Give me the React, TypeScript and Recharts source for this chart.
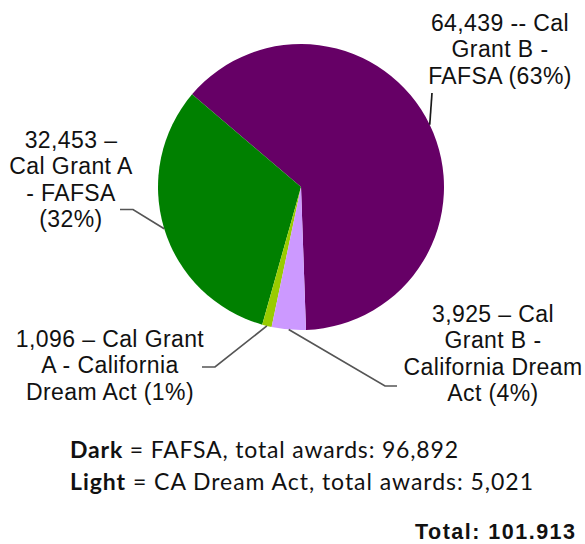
import React from 'react';
import { PieChart, Pie, Cell } from 'recharts';

const categories = [
  'Cal Grant B - FAFSA',
  'Cal Grant A - FAFSA',
  'Cal Grant A - California Dream Act',
  'Cal Grant B - California Dream Act',
];
const awards = [64439, 32453, 1096, 3925];
const sliceColors = ['#660066', '#008000', '#99CC00', '#CC99FF'];
const sliceLabels = [
  ['64,439 -- Cal', 'Grant B -', 'FAFSA (63%)'],
  ['32,453 \u2013', 'Cal Grant A', '- FAFSA', '(32%)'],
  ['1,096 \u2013 Cal Grant', 'A - California', 'Dream Act (1%)'],
  ['3,925 \u2013 Cal', 'Grant B -', 'California Dream', 'Act (4%)'],
];
const legendBold = ['Dark', 'Light'];
const legendRest = [' = FAFSA, total awards: 96,892', ' = CA Dream Act, total awards: 5,021'];
const totalLabel = 'Total: 101.913';

const data = categories.map((name, i) => ({ name, value: awards[i] }));

// label placement (layout, not data)
const labelLayout = [
  { x: 500, y: 31, path: [[432, 93]], stroke: '#1a1a1a' },
  { x: 71, y: 148, path: [[133, 209.5], [120, 209.5]], stroke: '#555555' },
  { x: 110, y: 347, path: [[215, 367], [202, 367]], stroke: '#555555' },
  { x: 493, y: 322, path: [[385, 386], [397, 386]], stroke: '#555555' },
];
const LINE_H = 26.3;

const RAD = Math.PI / 180;

const renderLabel = (props: any) => {
  const { cx, cy, midAngle, outerRadius, index } = props;
  const lay = labelLayout[index];
  const lines = sliceLabels[index];
  const sx = cx + outerRadius * Math.cos(-midAngle * RAD);
  const sy = cy + outerRadius * Math.sin(-midAngle * RAD);
  const pts = [[sx, sy], ...lay.path].map((p) => `${p[0]},${p[1]}`).join(' ');
  return (
    <g key={`lbl-${index}`}>
      <polyline points={pts} fill="none" stroke={lay.stroke} strokeWidth={1.7} />
      <text
        x={lay.x}
        y={lay.y}
        textAnchor="middle"
        fill="#111111"
        style={{ fontFamily: '"Liberation Sans", Arial, sans-serif', fontSize: 23, letterSpacing: 0.4 }}
      >
        {lines.map((l, k) => (
          <tspan key={k} x={lay.x} dy={k === 0 ? 0 : LINE_H}>
            {l}
          </tspan>
        ))}
      </text>
    </g>
  );
};

export default function App() {
  return (
    <div style={{ position: 'absolute', left: 0, top: 0, width: 585, height: 544, background: '#ffffff' }}>
      <style>{'body{margin:0;background:#fff}'}</style>
      <PieChart width={585} height={544} margin={{ top: 0, right: 0, bottom: 0, left: 0 }}>
        <Pie
          data={data}
          dataKey="value"
          nameKey="name"
          cx={301}
          cy={187}
          outerRadius={143}
          startAngle={-88}
          endAngle={272}
          stroke="none"
          label={renderLabel}
          labelLine={false}
          isAnimationActive={false}
        >
          {data.map((d, i) => (
            <Cell key={d.name} fill={sliceColors[i]} stroke="none" />
          ))}
        </Pie>
      </PieChart>
      <svg
        width={585}
        height={544}
        style={{ position: 'absolute', left: 0, top: 0, pointerEvents: 'none' }}
      >
        {legendBold.map((b, i) => (
          <text
            key={b}
            x={70}
            y={458 + i * 32}
            fill="#111111"
            textLength={i === 0 ? 388 : 463}
            lengthAdjust="spacing"
            style={{ fontFamily: 'Lato, "Open Sans", sans-serif', fontSize: 23 }}
          >
            <tspan fontWeight="bold">{b}</tspan>
            <tspan>{legendRest[i]}</tspan>
          </text>
        ))}
        <text
          x={575}
          y={539}
          textAnchor="end"
          fill="#111111"
          textLength={160}
          lengthAdjust="spacing"
          style={{ fontFamily: '"Liberation Sans", Arial, sans-serif', fontSize: 21.5, fontWeight: 'bold' }}
        >
          {totalLabel}
        </text>
      </svg>
    </div>
  );
}
